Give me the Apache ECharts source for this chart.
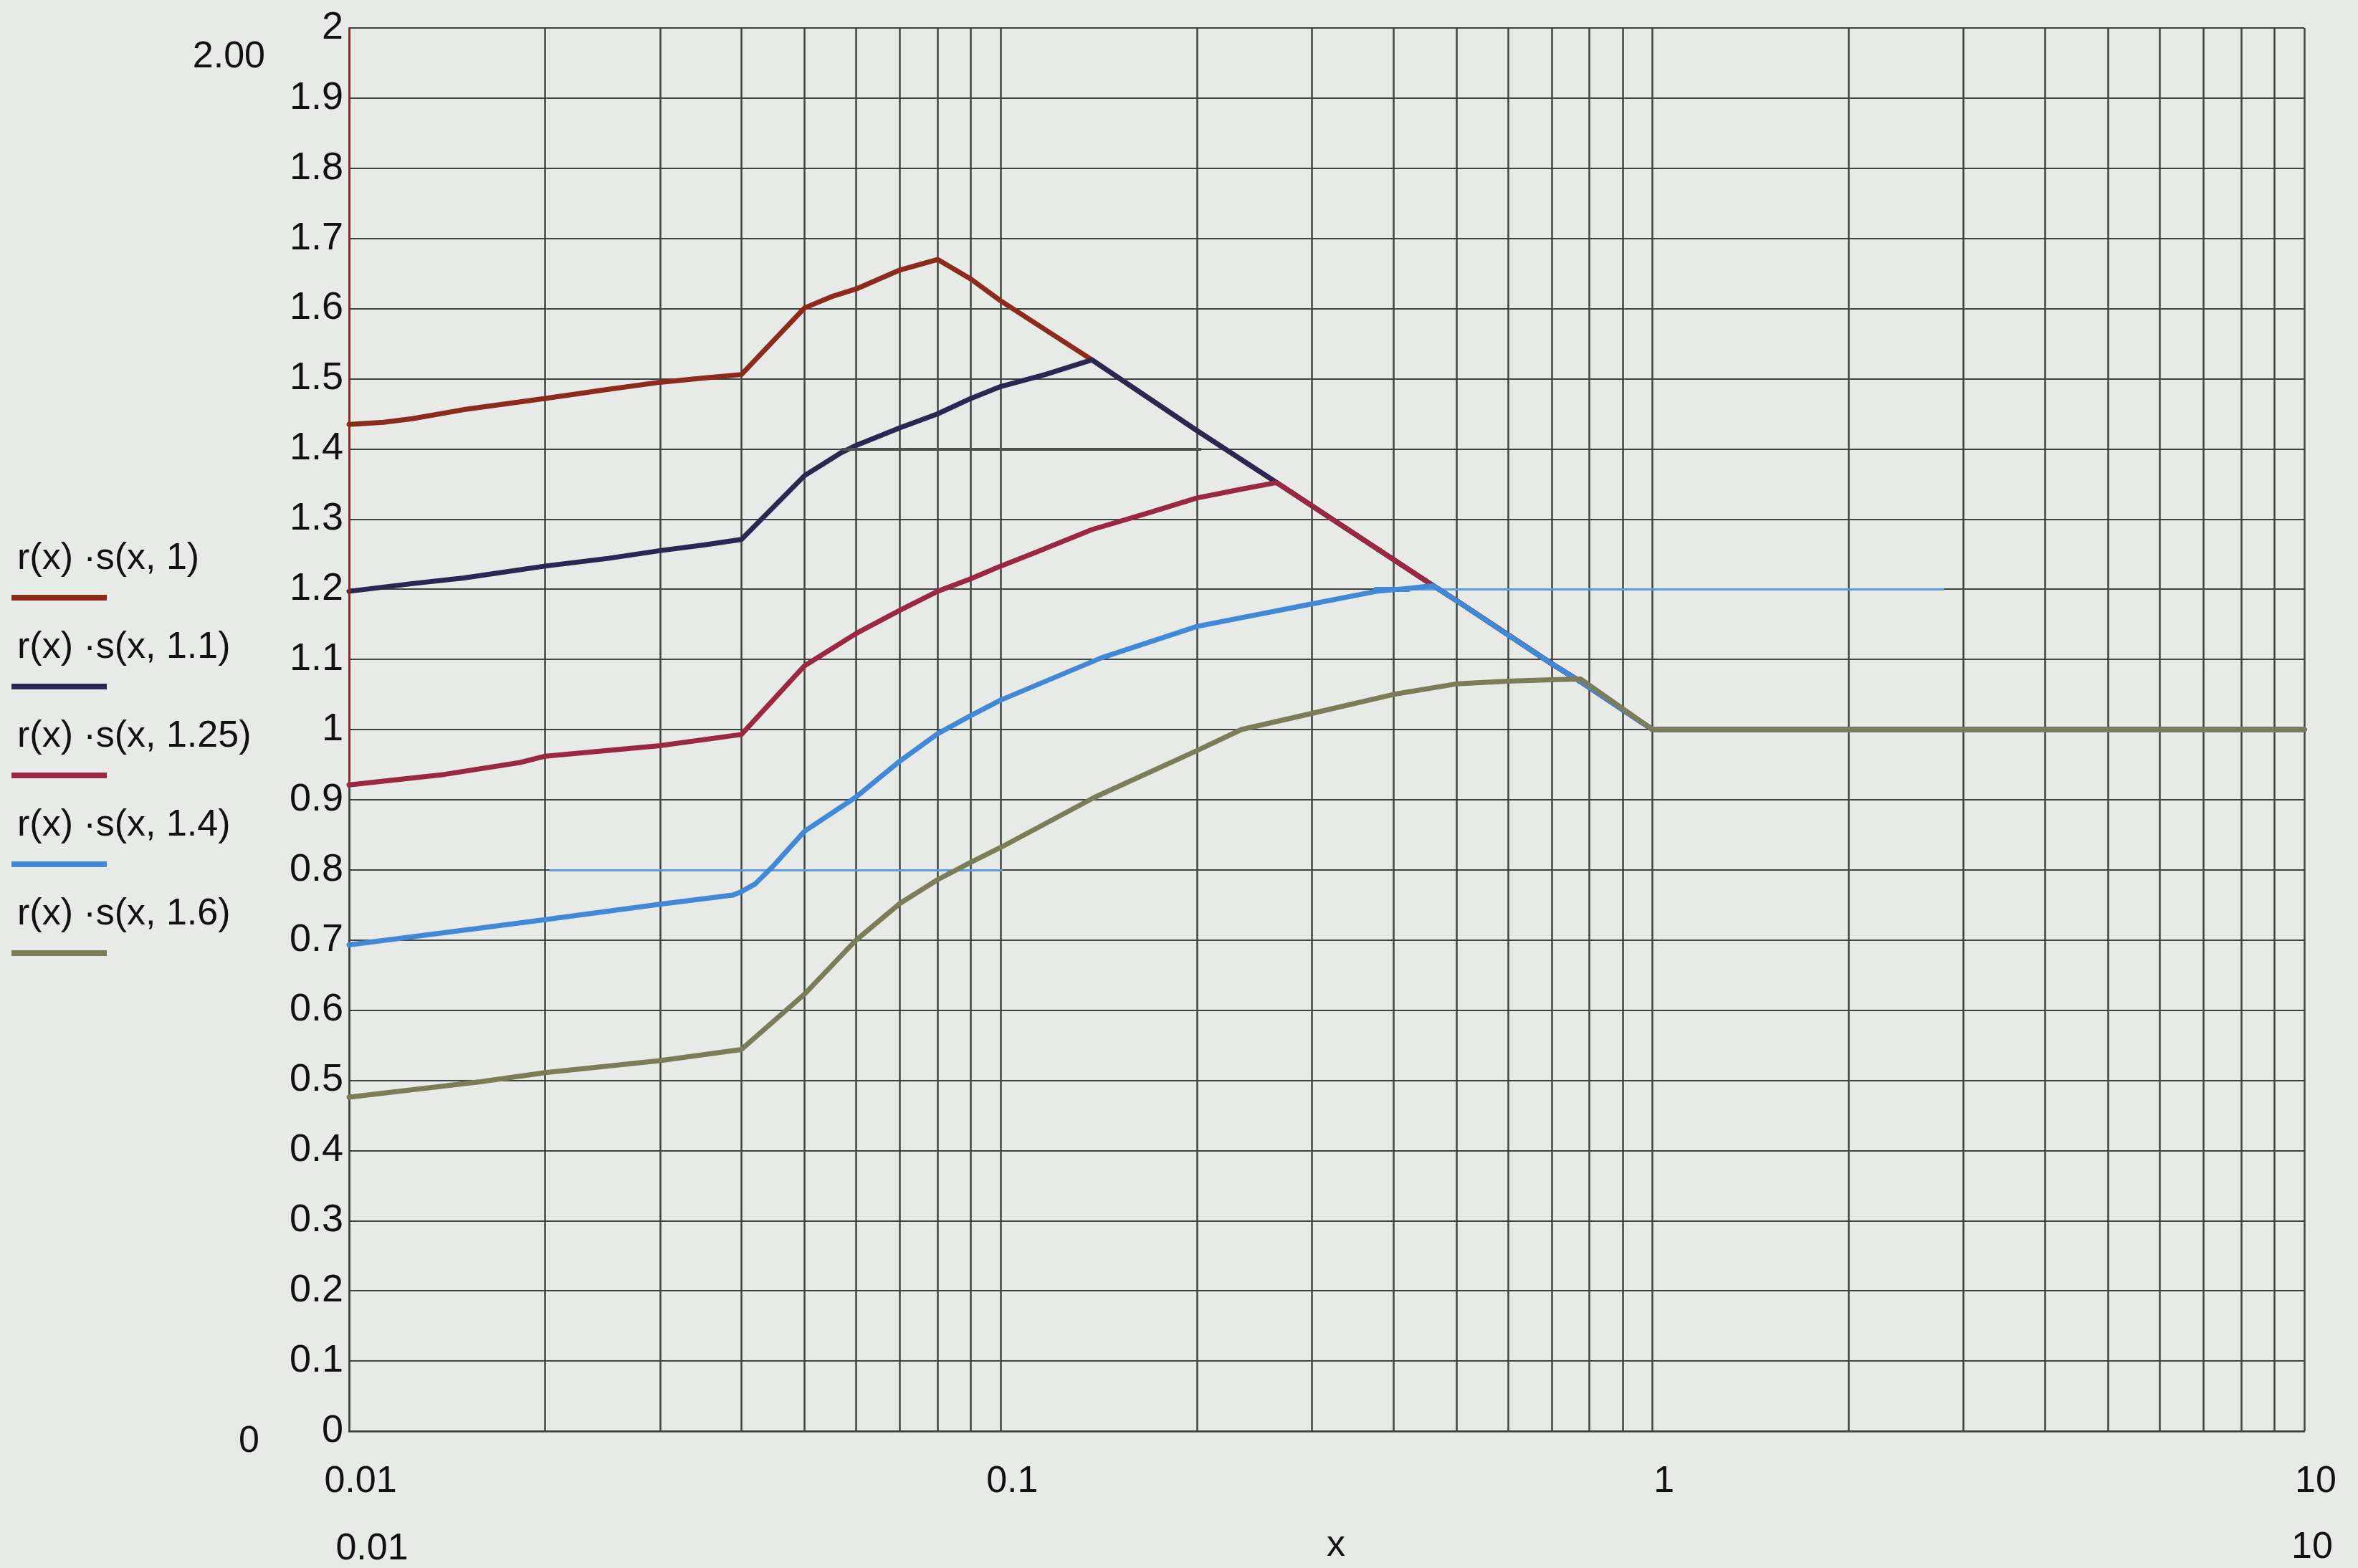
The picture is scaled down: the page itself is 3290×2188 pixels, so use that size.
<!DOCTYPE html>
<html><head><meta charset="utf-8">
<script src="https://cdn.jsdelivr.net/npm/echarts@6/dist/echarts.min.js"></script>
<style>html,body{margin:0;padding:0;background:#e7eae7;}#c{width:3290px;height:2188px;}</style>
</head><body><div id="c"></div>
<script>
// ---------- data ----------
const seriesNames = ['r(x) ·s(x, 1)', 'r(x) ·s(x, 1.1)', 'r(x) ·s(x, 1.25)', 'r(x) ·s(x, 1.4)', 'r(x) ·s(x, 1.6)'];
const s1 = [[0.01,1.435],[0.0113,1.438],[0.0125,1.443],[0.015,1.456],[0.02,1.472],[0.025,1.485],[0.03,1.495],[0.035,1.501],[0.04,1.506],[0.05,1.601],[0.055,1.617],[0.06,1.628],[0.07,1.655],[0.08,1.670],[0.09,1.642],[0.1,1.611],[0.138,1.527],[0.2,1.426],[0.265,1.352],[0.3,1.319],[0.461,1.205],[0.5,1.184],[0.7,1.094],[0.776,1.068],[1,1.0],[10,1.0]];
const s2 = [[0.01,1.197],[0.0125,1.208],[0.015,1.216],[0.02,1.233],[0.025,1.244],[0.03,1.255],[0.035,1.263],[0.04,1.271],[0.05,1.362],[0.057,1.395],[0.06,1.405],[0.07,1.43],[0.08,1.45],[0.09,1.472],[0.1,1.489],[0.117,1.506],[0.138,1.527],[0.2,1.426],[0.265,1.352],[0.3,1.319],[0.461,1.205],[0.5,1.184],[0.7,1.094],[0.776,1.068],[1,1.0],[10,1.0]];
const s3 = [[0.01,0.921],[0.014,0.936],[0.0183,0.953],[0.02,0.962],[0.03,0.977],[0.04,0.993],[0.05,1.091],[0.06,1.137],[0.07,1.17],[0.08,1.197],[0.09,1.215],[0.1,1.233],[0.1135,1.253],[0.138,1.285],[0.1675,1.308],[0.2,1.33],[0.235,1.343],[0.265,1.352],[0.3,1.319],[0.461,1.205],[0.5,1.184],[0.7,1.094],[0.776,1.068],[1,1.0],[10,1.0]];
const s4 = [[0.01,0.693],[0.0159,0.717],[0.02,0.729],[0.03,0.751],[0.0388,0.764],[0.04,0.769],[0.042,0.78],[0.0445,0.803],[0.05,0.855],[0.06,0.904],[0.07,0.955],[0.08,0.994],[0.09,1.02],[0.1,1.042],[0.1425,1.102],[0.2,1.147],[0.3,1.179],[0.377,1.197],[0.42,1.201],[0.461,1.205],[0.5,1.184],[0.6,1.135],[0.7,1.094],[0.776,1.068],[1,1.0],[10,1.0]];
const s5 = [[0.01,0.476],[0.0159,0.498],[0.02,0.511],[0.03,0.528],[0.04,0.544],[0.05,0.623],[0.06,0.70],[0.07,0.752],[0.08,0.786],[0.09,0.811],[0.1,0.832],[0.139,0.903],[0.2,0.97],[0.234,1.0],[0.3,1.023],[0.4,1.05],[0.5,1.065],[0.6,1.069],[0.7,1.071],[0.776,1.072],[1,1.0],[10,1.0]];
// stray horizontal marker traces seen in the plot: [x0, x1, y]
const trace2Seg = [[0.057, 0.203, 1.4]];
const trace4Seg = [[0.0203, 0.1005, 0.8], [0.374, 2.8, 1.2]];
const trace4Stub = [[0.374, 0.424, 1.2]];
const axisStub1 = [[0.01, 0.92, 2.0]]; // x, y0, y1
// axis ticks / grid
const xDecades = [0.01, 0.1, 1, 10];
const xGridLines = [0.01,0.02,0.03,0.04,0.05,0.06,0.07,0.08,0.09,0.1,0.2,0.3,0.4,0.5,0.6,0.7,0.8,0.9,1,2,3,4,5,6,7,8,9,10];
const yMin = 0, yMax = 2, yStep = 0.1;
const xMin = 0.01, xMax = 10;

// ---------- style ----------
const colors = ['#8c2a1c', '#2c2752', '#9b2840', '#4189d6', '#7c7c58'];
const gridColor = '#3d433e';
const FONT = '"Liberation Sans", Arial, sans-serif';

const chart = echarts.init(document.getElementById('c'), null, {renderer: 'canvas'});

function hSegs(arr) { return arr.map(s => [{coord: [s[0], s[2]]}, {coord: [s[1], s[2]]}]); }
function vSegs(arr) { return arr.map(s => [{coord: [s[0], s[1]]}, {coord: [s[0], s[2]]}]); }

const dataSets = [s1, s2, s3, s4, s5];
const series = [];
series.push({
  type: 'line', data: [], silent: true, z: 1,
  markLine: {
    silent: true, symbol: 'none', animation: false, z: 1,
    label: {show: false},
    lineStyle: {color: gridColor, width: 2.5, type: 'solid'},
    data: xGridLines.map(v => ({xAxis: v}))
  }
});
dataSets.forEach((d, i) => {
  const s = {
    name: seriesNames[i], type: 'line', data: d, showSymbol: false, smooth: false,
    lineStyle: {color: colors[i], width: 7, join: 'round', cap: 'round'},
    itemStyle: {color: colors[i]}, z: 3 + i, silent: true
  };
  const ml = [];
  if (i === 0) ml.push({data: vSegs(axisStub1), lineStyle: {color: colors[0], width: 3}});
  if (i === 1) ml.push({data: hSegs(trace2Seg), lineStyle: {color: '#4a514c', width: 4}});
  if (i === 3) ml.push({data: hSegs(trace4Seg).concat(hSegs(trace4Stub)), lineStyle: {color: '#5d9be0', width: 3}});
  if (ml.length) {
    s.markLine = {silent: true, symbol: 'none', animation: false, label: {show: false},
      lineStyle: Object.assign({type: 'solid'}, ml[0].lineStyle), data: ml[0].data};
  }
  series.push(s);
});
// thicker stub for trace 4 at 1.2
series.push({
  type: 'line', data: [], silent: true, z: 9,
  markLine: {silent: true, symbol: 'none', animation: false, label: {show: false},
    lineStyle: {color: colors[3], width: 7, type: 'solid'}, data: hSegs(trace4Stub)}
});

const legendTop = 780, legendStep = 124;
const graphic = [];
seriesNames.forEach((n, i) => {
  graphic.push({type: 'text', x: 24, y: legendTop + i * legendStep,
    style: {text: n, fill: '#111', font: '52px ' + FONT, verticalAlign: 'middle', align: 'left'}});
  graphic.push({type: 'line', shape: {x1: 16, y1: legendTop + 54 + i * legendStep, x2: 149, y2: legendTop + 54 + i * legendStep},
    style: {stroke: colors[i], lineWidth: 8}});
});
graphic.push({type: 'text', x: 370, y: 80, style: {text: '2.00', fill: '#111', font: '52px ' + FONT, verticalAlign: 'middle', align: 'right'}});
graphic.push({type: 'text', x: 362, y: 2012, style: {text: '0', fill: '#111', font: '52px ' + FONT, verticalAlign: 'middle', align: 'right'}});
graphic.push({type: 'text', x: 519, y: 2162, style: {text: '0.01', fill: '#111', font: '52px ' + FONT, verticalAlign: 'middle', align: 'center'}});
graphic.push({type: 'text', x: 3226, y: 2160, style: {text: '10', fill: '#111', font: '52px ' + FONT, verticalAlign: 'middle', align: 'center'}});

chart.setOption({
  animation: false,
  backgroundColor: '#e7eae7',
  grid: {left: 487, right: 75, top: 39, bottom: 162, containLabel: false},
  xAxis: {
    type: 'log', logBase: 10, min: xMin, max: xMax, splitNumber: 3,
    name: 'x', nameLocation: 'middle', nameGap: 134,
    nameTextStyle: {fontSize: 52, fontFamily: FONT, color: '#111', padding: [0, 0, 0, 26]},
    axisLine: {show: true, lineStyle: {color: gridColor, width: 2.5}},
    axisTick: {show: false},
    splitLine: {show: false},
    minorTick: {show: false}, minorSplitLine: {show: false},
    axisLabel: {
      fontSize: 52, fontFamily: FONT, color: '#111', margin: 45, padding: [0, 0, 0, 32],
      showMinLabel: true, showMaxLabel: true,
      formatter: v => {
        const r = +(+v).toPrecision(6);
        return xDecades.some(d => Math.abs(d - r) < 1e-9) ? String(r) : '';
      }
    }
  },
  yAxis: {
    type: 'value', min: yMin, max: yMax, interval: yStep,
    axisLine: {show: true, lineStyle: {color: gridColor, width: 2.5}},
    axisTick: {show: false},
    splitLine: {show: true, lineStyle: {color: gridColor, width: 2}},
    axisLabel: {
      fontSize: 54, fontFamily: FONT, color: '#111', margin: 8, padding: [16, 0, 0, 0],
      showMinLabel: true, showMaxLabel: true,
      formatter: v => String(+(+v).toFixed(1))
    }
  },
  graphic: graphic,
  series: series
});
</script></body></html>
